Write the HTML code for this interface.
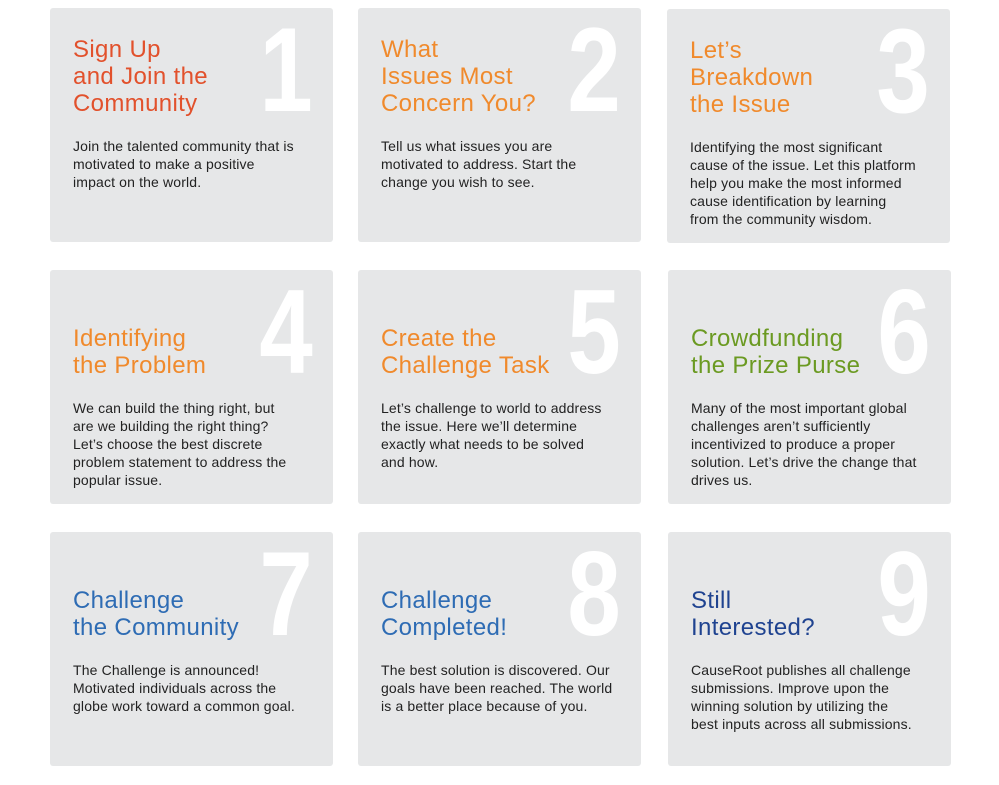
<!DOCTYPE html>
<html><head><meta charset="utf-8"><style>
body{margin:0;width:999px;height:785px;background:#fff;position:relative;overflow:hidden;font-family:"Liberation Sans",sans-serif}
.card{position:absolute;width:283px;height:234px;background:#e6e7e8;border-radius:3px}
.num{position:absolute;right:20px;top:2px;font-family:"Liberation Sans Narrow","Liberation Sans",sans-serif;font-weight:bold;font-size:120px;line-height:120px;color:#fff;transform:scaleX(0.8);transform-origin:right}
.title{position:absolute;left:23px;bottom:125px;font-size:24px;line-height:27px;letter-spacing:0.35px;white-space:nowrap}
.body{position:absolute;left:23px;top:129px;font-size:14px;line-height:18px;letter-spacing:0.15px;color:#222;white-space:nowrap}
</style></head><body>
<div class="card" style="left:50px;top:8px"><div class="num">1</div><div class="title" style="color:#e2512c">Sign Up<br>and Join the<br>Community</div><div class="body">Join the talented community that is<br>motivated to make a positive<br>impact on the world.</div></div>
<div class="card" style="left:358px;top:8px"><div class="num">2</div><div class="title" style="color:#f08a2c">What<br>Issues Most<br>Concern You?</div><div class="body">Tell us what issues you are<br>motivated to address. Start the<br>change you wish to see.</div></div>
<div class="card" style="left:667px;top:9px"><div class="num">3</div><div class="title" style="color:#f08a2c">Let’s<br>Breakdown<br>the Issue</div><div class="body">Identifying the most significant<br>cause of the issue. Let this platform<br>help you make the most informed<br>cause identification by learning<br>from the community wisdom.</div></div>
<div class="card" style="left:50px;top:270px"><div class="num">4</div><div class="title" style="color:#f08a2c">Identifying<br>the Problem</div><div class="body">We can build the thing right, but<br>are we building the right thing?<br>Let’s choose the best discrete<br>problem statement to address the<br>popular issue.</div></div>
<div class="card" style="left:358px;top:270px"><div class="num">5</div><div class="title" style="color:#f08a2c">Create the<br>Challenge Task</div><div class="body">Let’s challenge to world to address<br>the issue. Here we’ll determine<br>exactly what needs to be solved<br>and how.</div></div>
<div class="card" style="left:668px;top:270px"><div class="num">6</div><div class="title" style="color:#6b9a22">Crowdfunding<br>the Prize Purse</div><div class="body">Many of the most important global<br>challenges aren’t sufficiently<br>incentivized to produce a proper<br>solution. Let’s drive the change that<br>drives us.</div></div>
<div class="card" style="left:50px;top:532px"><div class="num">7</div><div class="title" style="color:#2e6cb4">Challenge<br>the Community</div><div class="body">The Challenge is announced!<br>Motivated individuals across the<br>globe work toward a common goal.</div></div>
<div class="card" style="left:358px;top:532px"><div class="num">8</div><div class="title" style="color:#2e6cb4">Challenge<br>Completed!</div><div class="body">The best solution is discovered. Our<br>goals have been reached. The world<br>is a better place because of you.</div></div>
<div class="card" style="left:668px;top:532px"><div class="num">9</div><div class="title" style="color:#1f4390">Still<br>Interested?</div><div class="body">CauseRoot publishes all challenge<br>submissions. Improve upon the<br>winning solution by utilizing the<br>best inputs across all submissions.</div></div>
</body></html>
